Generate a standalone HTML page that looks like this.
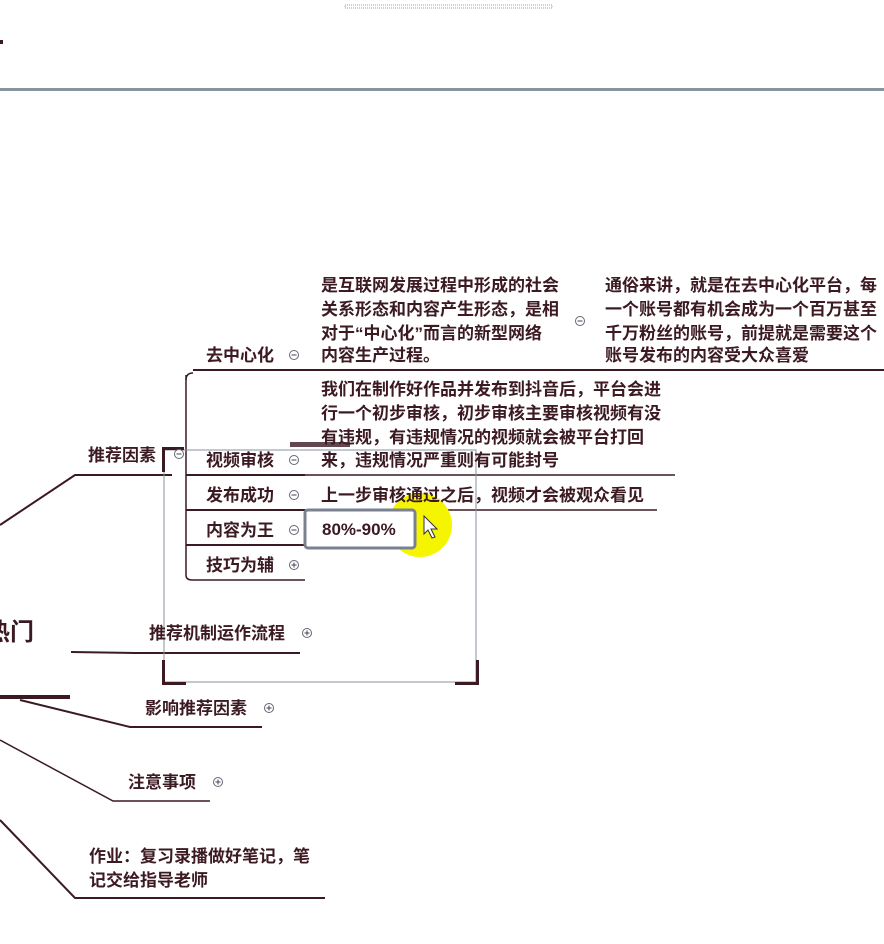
<!DOCTYPE html>
<html><head><meta charset="utf-8"><style>
html,body{margin:0;padding:0;background:#fff;width:884px;height:944px;overflow:hidden}
svg text{font-family:"Liberation Sans","Noto Sans CJK SC",sans-serif;font-weight:bold;fill:#3b1a22}
</style></head><body>
<svg width="884" height="944" viewBox="0 0 884 944" xmlns="http://www.w3.org/2000/svg">
<rect x="345" y="5" width="207" height="3" fill="none" stroke="#9aa0aa" stroke-width="1" stroke-dasharray="1 1"/>
<rect x="0" y="40" width="3" height="4" fill="#3b1a22"/>
<rect x="0" y="88" width="884" height="3" fill="#8a93a0"/>
<g stroke="#3b1a22" fill="none">
<line x1="193" y1="370" x2="884" y2="370" stroke-width="2"/>
<path d="M186 380 Q186 373 193 373" stroke-width="1.5"/>
<path d="M186 375 V575 Q186 580 192 580 H305" stroke-width="1.5"/>
<line x1="186" y1="475" x2="305" y2="475" stroke-width="2"/>
<line x1="305" y1="475" x2="675" y2="475" stroke-width="1.5"/>
<line x1="186" y1="510" x2="305" y2="510" stroke-width="2"/>
<line x1="305" y1="510" x2="657" y2="510" stroke-width="1.5"/>
<line x1="186" y1="545" x2="305" y2="545" stroke-width="2"/>
<polyline points="0,525 75,475 172,475" stroke-width="2"/>
<line x1="71" y1="652" x2="135" y2="653" stroke-width="2"/>
<line x1="135" y1="653" x2="300" y2="653" stroke-width="2"/>
<line x1="0" y1="697" x2="70" y2="697" stroke-width="4"/>
<polyline points="20,700 130,727 262,727" stroke-width="2"/>
<polyline points="0,740 113,801 210,801" stroke-width="1.5"/>
<polyline points="0,820 75,898 325,898" stroke-width="2"/>
</g>
<rect x="164" y="450" width="312" height="232" fill="none" stroke="#8a93a0" stroke-width="1"/>
<g fill="#3b1a22">
<rect x="162" y="447" width="22" height="3"/><rect x="162" y="447" width="3" height="25"/>
<rect x="162" y="660" width="3" height="25"/><rect x="162" y="682" width="24" height="3"/>
<rect x="476" y="660" width="3" height="25"/><rect x="455" y="682" width="24" height="3"/>
<rect x="290" y="442" width="60" height="5" opacity="0.8"/>
</g>
<circle cx="420" cy="525" r="32" fill="#f5f500"/>
<rect x="305" y="510" width="110" height="38" rx="3" fill="#fff" stroke="#7a8190" stroke-width="3"/>
<path d="M424 516 L424 534 L428 530 L432 538 L435 537 L431 529 L437 529 Z" fill="#fff" stroke="#333" stroke-width="1"/>
<g style="font-size:17px">
<text x="206" y="361">去中心化</text>
<text x="321" y="291">是互联网发展过程中形成的社会</text>
<text x="321" y="315">关系形态和内容产生形态，是相</text>
<text x="321" y="339">对于“中心化”而言的新型网络</text>
<text x="321" y="361">内容生产过程。</text>
<text x="605" y="291">通俗来讲，就是在去中心化平台，每</text>
<text x="605" y="315">一个账号都有机会成为一个百万甚至</text>
<text x="605" y="339">千万粉丝的账号，前提就是需要这个</text>
<text x="605" y="361">账号发布的内容受大众喜爱</text>
<text x="321" y="395">我们在制作好作品并发布到抖音后，平台会进</text>
<text x="321" y="419">行一个初步审核，初步审核主要审核视频有没</text>
<text x="321" y="443">有违规，有违规情况的视频就会被平台打回</text>
<text x="321" y="466">来，违规情况严重则有可能封号</text>
<text x="88" y="461">推荐因素</text>
<text x="206" y="466">视频审核</text>
<text x="206" y="501">发布成功</text>
<text x="321" y="501">上一步审核通过之后，视频才会被观众看见</text>
<text x="206" y="536">内容为王</text>
<text x="322" y="535">80%-90%</text>
<text x="206" y="571">技巧为辅</text>
<text x="149" y="639">推荐机制运作流程</text>
<text x="145" y="714">影响推荐因素</text>
<text x="128" y="788">注意事项</text>
<text x="89" y="862">作业：复习录播做好笔记，笔</text>
<text x="89" y="886">记交给指导老师</text>
<text x="-14" y="640" style="font-size:24px">热门</text>
</g>
<g fill="#fff" stroke="#667" stroke-width="1">
<circle cx="294" cy="355" r="4.5"/><circle cx="580" cy="321" r="4.5"/>
<circle cx="179" cy="454" r="4.5"/><circle cx="294" cy="460" r="4.5"/>
<circle cx="294" cy="495" r="4.5"/><circle cx="294" cy="530" r="4.5"/>
<circle cx="294" cy="565" r="4.5"/><circle cx="307" cy="633" r="4.5"/>
<circle cx="269" cy="708" r="4.5"/><circle cx="218" cy="782" r="4.5"/>
</g>
<g stroke="#445" stroke-width="1">
<line x1="291.5" y1="355" x2="296.5" y2="355"/><line x1="577.5" y1="321" x2="582.5" y2="321"/>
<line x1="176.5" y1="454" x2="181.5" y2="454"/><line x1="291.5" y1="460" x2="296.5" y2="460"/>
<line x1="291.5" y1="495" x2="296.5" y2="495"/><line x1="291.5" y1="530" x2="296.5" y2="530"/>
<line x1="291.5" y1="565" x2="296.5" y2="565"/><line x1="294" y1="562.5" x2="294" y2="567.5"/>
<line x1="304.5" y1="633" x2="309.5" y2="633"/><line x1="307" y1="630.5" x2="307" y2="635.5"/>
<line x1="266.5" y1="708" x2="271.5" y2="708"/><line x1="269" y1="705.5" x2="269" y2="710.5"/>
<line x1="215.5" y1="782" x2="220.5" y2="782"/><line x1="218" y1="779.5" x2="218" y2="784.5"/>
</g>
</svg>
</body></html>
